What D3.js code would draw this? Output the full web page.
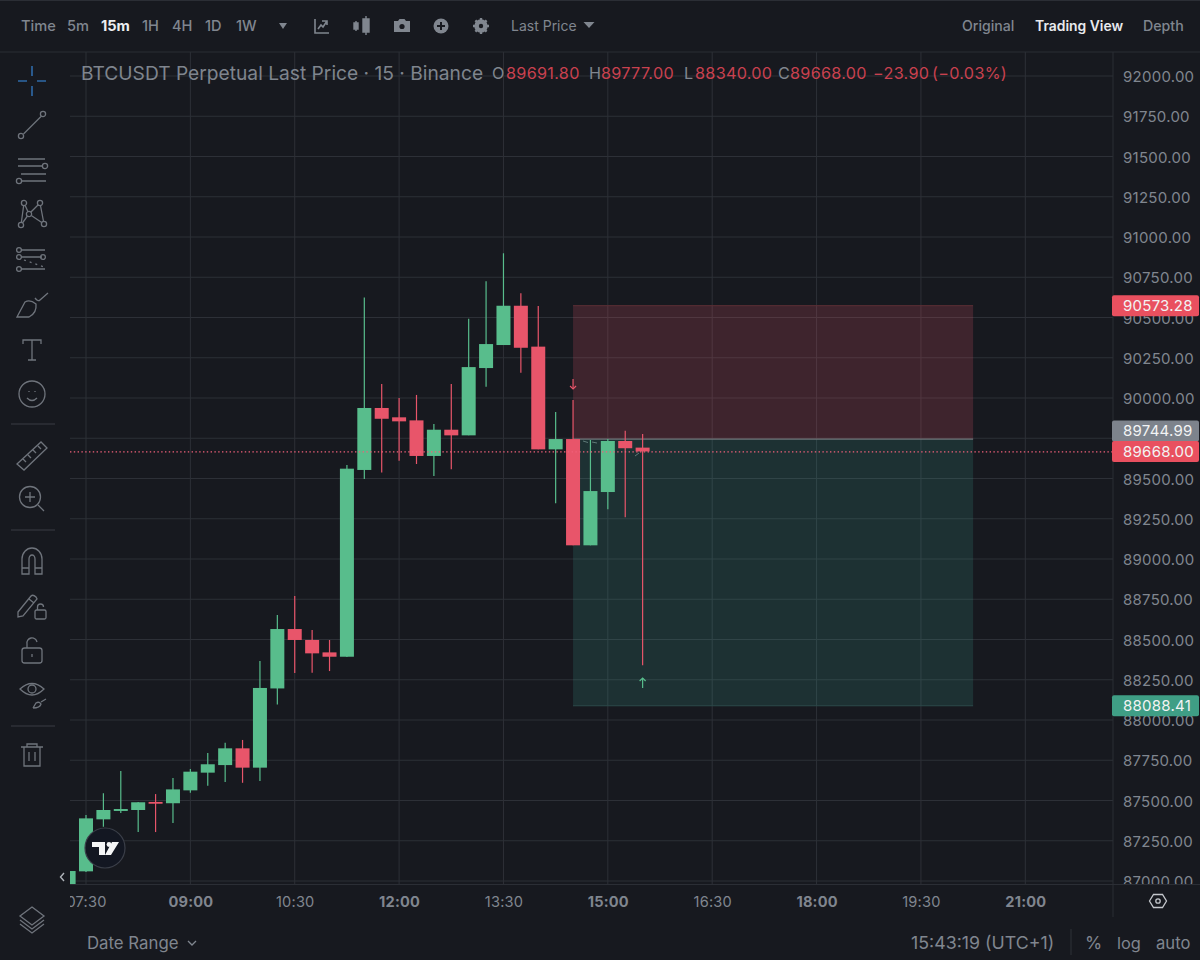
<!DOCTYPE html>
<html><head><meta charset="utf-8">
<script src="https://cdn.jsdelivr.net/npm/d3@7"></script>
<style>
html,body{margin:0;padding:0;background:#17191f;overflow:hidden}
svg{display:block}
text{font-family:Inter,"Noto Sans",sans-serif}
</style></head><body>
<svg id="c" width="1200" height="960"></svg>
<script>
const barTimes=["07:15","07:30","07:45","08:00","08:15","08:30","08:45","09:00","09:15","09:30","09:45","10:00","10:15","10:30","10:45","11:00","11:15","11:30","11:45","12:00","12:15","12:30","12:45","13:00","13:15","13:30","13:45","14:00","14:15","14:30","14:45","15:00","15:15","15:30"];
const opens=[86981,87060,87383,87435,87441,87491,87483,87563,87673,87720,87824,87704,88196,88565,88497,88420,88393,89553,89938,89880,89861,89640,89803,89768,90186,90329,90573,90319,89681,89745,89085,89416,89733,89691.8];
const closes=[87062,87389,87441,87447,87489,87480,87569,87679,87725,87824,87704,88199,88565,88497,88414,88393,89561,89938,89871,89855,89640,89803,89768,90192,90335,90573,90312,89681,89745,89085,89422,89733,89688,89668];
const highs=[87062,87410,87545,87683,87491,87540,87640,87696,87795,87859,87876,88366,88652,88770,88559,88497,89584,90625,90087,90000,90019,89838,90087,90492,90725,90899,90650,90571,89913,89988,89739,89745,89797,89777];
const lows=[86981,87056,87337,87422,87304,87304,87360,87548,87592,87615,87610,87621,88097,88292,88294,88304,88391,89497,89538,89610,89590,89515,89557,89768,90070,90329,90157,89681,89346,89085,89085,89309,89259,88340];
const priceTicks=[87000,87250,87500,87750,88000,88250,88500,88750,89000,89250,89500,89750,90000,90250,90500,90750,91000,91250,91500,91750,92000];
const timeTicks=["07:30","09:00","10:30","12:00","13:30","15:00","16:30","18:00","19:30","21:00"];
const majorTimes=["09:00","12:00","15:00","18:00","21:00"];
const stopPrice=90573.28, entryPrice=89744.99, targetPrice=88088.41, lastPrice=89668.00;
const boxStart="14:30", boxEnd="20:15";
const toolbarLabels=[["Time",21,0],["5m",67,0],["15m",101,1],["1H",142,0],["4H",172,0],["1D",205,0],["1W",236,0]];

const GRAY="#80868f",DIM="#6f747c",GREEN="#58bd8c",RED="#e8556a",GRID="#2d3037",BG="#17191f";
const mins=t=>{const[a,b]=t.split(":");return +a*60+ +b};
const x=d3.scaleLinear().domain([450,1260]).range([86,1025.3]);
const y=d3.scaleLinear().domain([87000,92000]).range([881,76]);
const svg=d3.select("#c");
svg.append("rect").attr("width",1200).attr("height",960).attr("fill",BG);
const defs=svg.append("defs");
defs.append("clipPath").attr("id","pane").append("rect").attr("x",70).attr("y",52).attr("width",1043).attr("height",832);
defs.append("clipPath").attr("id","yax").append("rect").attr("x",1114).attr("y",52).attr("width",86).attr("height",833);
defs.append("clipPath").attr("id","xax").append("rect").attr("x",70).attr("y",885).attr("width",1043).attr("height",35);

const pane=svg.append("g").attr("clip-path","url(#pane)");
pane.selectAll("line.h").data(priceTicks).join("line").attr("x1",58).attr("x2",1113).attr("y1",d=>y(d)).attr("y2",d=>y(d)).attr("stroke",GRID);
pane.selectAll("line.v").data(timeTicks).join("line").attr("x1",d=>x(mins(d))).attr("x2",d=>x(mins(d))).attr("y1",52).attr("y2",884).attr("stroke",GRID);

// position box
const bx0=x(mins(boxStart)),bx1=x(mins(boxEnd));
pane.append("rect").attr("x",bx0).attr("width",bx1-bx0).attr("y",y(stopPrice)).attr("height",y(entryPrice)-y(stopPrice)).attr("fill","rgba(232,85,106,.19)");
pane.append("rect").attr("x",bx0).attr("width",bx1-bx0).attr("y",y(entryPrice)).attr("height",y(targetPrice)-y(entryPrice)).attr("fill","rgba(70,190,170,.15)");
pane.append("line").attr("x1",bx0).attr("x2",bx1).attr("y1",y(entryPrice)).attr("y2",y(entryPrice)).attr("stroke","#6d7479").attr("stroke-width",1.2);
pane.append("line").attr("x1",bx0).attr("x2",bx1).attr("y1",y(stopPrice)).attr("y2",y(stopPrice)).attr("stroke","#5e2f36");
pane.append("line").attr("x1",bx0).attr("x2",bx1).attr("y1",y(targetPrice)).attr("y2",y(targetPrice)).attr("stroke","#2c4a4a");

// candles
const bw=14;
const bars=d3.range(barTimes.length);
const col=i=>closes[i]>=opens[i]?GREEN:RED;
pane.selectAll("line.w").data(bars).join("line")
 .attr("x1",i=>x(mins(barTimes[i]))).attr("x2",i=>x(mins(barTimes[i])))
 .attr("y1",i=>y(highs[i])).attr("y2",i=>y(lows[i])).attr("stroke",col).attr("stroke-width",1.2);
pane.selectAll("rect.b").data(bars).join("rect")
 .attr("x",i=>x(mins(barTimes[i]))-bw/2).attr("width",bw)
 .attr("y",i=>Math.min(y(opens[i]),y(closes[i])))
 .attr("height",i=>Math.max(1.5,Math.abs(y(opens[i])-y(closes[i])))).attr("fill",col);

// last price dotted
pane.append("line").attr("x1",70).attr("x2",1113).attr("y1",y(lastPrice)+.5).attr("y2",y(lastPrice)+.5).attr("stroke","#f0607a").attr("stroke-width",1.3).attr("stroke-dasharray","1.4 2.4");

// small marks and arrows
const arrow=(px,py,c,dir)=>{const g=svg.append("g").attr("stroke",c).attr("fill","none").attr("stroke-width",1.2);
 g.append("line").attr("x1",px).attr("x2",px).attr("y1",py-5).attr("y2",py+5);
 g.append("path").attr("d",`M${px-3},${py+dir*2} L${px},${py+dir*5} L${px+3},${py+dir*2}`);};
arrow(x(mins("14:30")),384,RED,1);
arrow(x(mins("15:30")),683,GREEN,-1);
svg.append("path").attr("d","M583,441 l5,1.5 M592,442 l5,1 M635,456 l4,-3").attr("stroke","#5f7a78").attr("fill","none");

// axes
const yAxis=d3.axisRight(y).tickValues(priceTicks).tickSize(0).tickPadding(0).tickFormat(d=>d3.format(".2f")(d));
const ya=svg.append("g").attr("clip-path","url(#yax)").append("g").attr("transform","translate(1123,0.7)").call(yAxis);
ya.select(".domain").remove();
ya.selectAll("text").attr("fill",GRAY).style("font-size","15px").style("letter-spacing",".25px");
const xAxis=d3.axisBottom(d3.scaleLinear().domain(x.domain()).range(x.range())).tickValues(timeTicks.map(mins)).tickSize(0).tickPadding(0)
 .tickFormat(d=>timeTicks.find(t=>mins(t)===d));
const xa=svg.append("g").attr("clip-path","url(#xax)").append("g").attr("transform","translate(0,896.5)").call(xAxis);
xa.select(".domain").remove();
xa.selectAll("text").attr("fill",GRAY).style("font-size","14.6px")
 .style("font-weight",function(d){return majorTimes.includes(timeTicks.find(t=>mins(t)===d))?"700":"400"})
 .style("letter-spacing",".2px");

// frame lines
const frame=[[0,52,1200,52],[1113,52,1113,917],[70,884.5,1200,884.5]];
svg.selectAll("line.f").data(frame).join("line").attr("x1",d=>d[0]).attr("y1",d=>d[1]).attr("x2",d=>d[2]).attr("y2",d=>d[3]).attr("stroke","#2b2e35");
svg.append("line").attr("x1",0).attr("x2",1200).attr("y1",0.5).attr("y2",0.5).attr("stroke","#2b2e35");

// price labels
function tag(v,cy,c,fill){
 svg.append("rect").attr("x",1112).attr("y",cy-10.5).attr("width",87).attr("height",21).attr("rx",2).attr("fill",c);
 svg.append("text").attr("x",1123).attr("y",cy).attr("dy",".36em").attr("fill",fill||"#f2f3f4").style("font-size","15px").style("letter-spacing",".25px").text(d3.format(".2f")(v));
}
tag(stopPrice,y(stopPrice),"#e9505f");
tag(entryPrice,y(entryPrice)-8,"#7d838c");
tag(lastPrice,y(lastPrice),"#e9505f");
tag(targetPrice,y(targetPrice),"#3f9e85");

// text helper
const T=(s,px,py,c,sz,w,anchor)=>svg.append("text").attr("x",px).attr("y",py).attr("dy",".36em").attr("fill",c).style("font-size",sz+"px").style("font-weight",w||400).attr("text-anchor",anchor||"start").text(s);

// top bar
toolbarLabels.forEach(d=>T(d[0],d[1],26,d[2]?"#eceef0":GRAY,14.6,d[2]?700:500));
T("Last Price",511,26,GRAY,14,400);
T("Original",962,26,GRAY,14.1,500);
T("Trading View",1035,26,"#e8eaed",13.9,600);
T("Depth",1143,26,GRAY,14.2,500);
const tri=(px,py,w)=>svg.append("path").attr("d",`M${px-w},${py-3} L${px+w},${py-3} L${px},${py+3} Z`).attr("fill",GRAY);
tri(283,26,4);tri(589,25,5.5);

// toolbar icons
const ic=(px,py)=>svg.append("g").attr("transform",`translate(${px},${py})`).attr("fill","none").attr("stroke",GRAY).attr("stroke-width",1.4);
let g=ic(322,26); g.append("path").attr("d","M-7,-7 V7 H7 M-4,3 L-1,-1 L1,1 L5,-5 M0,-5 h5 v4").attr("stroke-width",1.6);
g=ic(362,26); g.attr("fill",GRAY); g.append("path").attr("d","M-8,-3 h4 v6 h-4 z M-6,-5 v10 M1,-7 h6 v13 h-6 z M4,-10 v19");
g=ic(402,26); g.attr("fill",GRAY).attr("stroke","none"); g.append("path").attr("d","M-8,-5 h4 l1.5,-2 h5 l1.5,2 h4 v11 h-16 z"); g.append("circle").attr("cy",0.5).attr("r",2.6).attr("fill",BG);
g=ic(441,26); g.attr("stroke","none"); g.append("circle").attr("r",7.5).attr("fill",GRAY); g.append("path").attr("d","M-4,0 H4 M0,-4 V4").attr("stroke",BG).attr("stroke-width",2);
g=ic(481,26); g.attr("stroke",GRAY); g.append("circle").attr("r",6).attr("fill",GRAY); g.append("circle").attr("r",2.2).attr("fill",BG).attr("stroke","none");
g.append("path").attr("d","M0,-8 V8 M-8,0 H8 M-5.6,-5.6 L5.6,5.6 M-5.6,5.6 L5.6,-5.6").attr("stroke-width",2.4).attr("stroke-dasharray","3 10");

// legend
T("BTCUSDT Perpetual Last Price · 15 · Binance",81,73,"#7f858e",19.2,400);
[["O",492,GRAY],["89691.80",506,"#c9414f"],["H",589,GRAY],["89777.00",601,"#c9414f"],["L",684,GRAY],["88340.00",695,"#c9414f"],["C",778,GRAY],["89668.00",790,"#c9414f"],["−23.90",873,"#c9414f"],["(−0.03%)",932,"#c9414f"]]
 .forEach(d=>T(d[0],d[1],73,d[2],16.2,400).style("letter-spacing",".3px"));

// left tools
const L=(py)=>ic(32,py).attr("stroke",DIM).attr("stroke-width",1.3);
g=ic(32,81).attr("stroke","#2f6aa8").attr("stroke-width",1.6); g.append("path").attr("d","M-14,0 H-5 M5,0 H14 M0,-15 V-5 M0,5 V15");
g=L(125); g.append("path").attr("d","M-8.5,9 L9,-8.5"); g.append("circle").attr("cx",-11).attr("cy",11).attr("r",2.6); g.append("circle").attr("cx",11).attr("cy",-11).attr("r",2.6);
g=L(170); g.append("path").attr("d","M-14,-11 H13 M-14,-4 H10 M-11,4 H14 M-10,11 H14"); g.append("circle").attr("cx",13).attr("cy",-4).attr("r",2.6); g.append("circle").attr("cx",-13).attr("cy",11).attr("r",2.6);
g=L(214); g.append("path").attr("d","M-8,-11 L-3,0 L-11,11 M8,-11 L-3,0 L12,10 M-8,-11 L-11,11 M8,-11 L12,10");
[[-8,-11],[8,-11],[-3,0],[-11,11],[12,10]].forEach(p=>g.append("circle").attr("cx",p[0]).attr("cy",p[1]).attr("r",2.6).attr("fill",BG));
g=L(260); g.append("path").attr("d","M-11,-10 H13 M-11,-3 H10 M-11,9 H13"); g.append("path").attr("d","M-8,0 L12,7").attr("stroke-dasharray","2 4");
[[-13,-10],[-13,-3],[11,-3],[-13,9]].forEach(p=>g.append("circle").attr("cx",p[0]).attr("cy",p[1]).attr("r",2.4));
g=L(306); g.append("path").attr("d","M-15,11 L-7,-4 Q-2,-7 4,-2 Q5,7 -3,11 Z M3,-8 Q6,-4 8,-6 L16,-13");
g=L(349); g.append("path").attr("d","M-9,-5 V-9 H9 V-5 M0,-9 V11 M-4,11 H4");
g=L(394); g.append("circle").attr("r",13); g.append("path").attr("d","M-5,4 Q0,9 5,4 M-3,-3 v1 M3,-3 v1");
[[11,424],[11,530],[11,726]].forEach(d=>svg.append("line").attr("x1",d[0]).attr("x2",55).attr("y1",d[1]).attr("y2",d[1]).attr("stroke","#3a3d44"));
g=L(456); g.append("path").attr("d","M-15,8 L9,-14 L15,-8 L-8,14 Z M-9,3 l3,3 M-4,-1 l3,3 M1,-6 l3,3 M6,-10 l3,3");
g=L(499); g.append("circle").attr("cx",-2).attr("cy",-2).attr("r",10.5); g.append("path").attr("d","M6,6 L12,12 M-7,-2 H3 M-2,-7 V3");
g=L(561); g.append("path").attr("d","M-10,13 V-2 A10,11 0 0 1 10,-2 V13 H3 V-2 A3,4 0 0 0 -3,-2 V13 Z M-10,7 H-3 M3,7 H10");
g=L(605); g.append("path").attr("d","M-14,7 L-1,-9 Q1,-11 4,-8 L5,-6 L-9,11 L-14,12 Z M-3,-6 L2,-2"); g.append("rect").attr("x",3).attr("y",5).attr("width",11).attr("height",9).attr("rx",1.5); g.append("path").attr("d","M5.5,5 V2 A3,3 0 0 1 11.5,2");
g=L(651); g.append("rect").attr("x",-10).attr("y",-3).attr("width",20).attr("height",15).attr("rx",2.5); g.append("path").attr("d","M-5,-3 V-7 A5,5 0 0 1 5,-9 M0,3 V6");
g=L(695); g.append("path").attr("d","M-12,-6 Q0,-17 12,-6 Q0,6 -12,-6 Z"); g.append("circle").attr("cy",-6).attr("r",4); g.append("path").attr("d","M1,13 L4,8 Q7,6 9,9 Q8,13 1,13 M9,7 L14,4");
g=L(756); g.append("path").attr("d","M-11,-9 H11 M-5,-9 V-12 H5 V-9 M-8,-9 V10 H8 V-9 M-3,-4 V5 M3,-4 V5");
g=L(919); g.append("path").attr("d","M0,-12 L12,-3 L0,6 L-12,-3 Z M-12,1 L0,10 L12,1 M-12,5 L0,14 L12,5");

// TV badge
const b=svg.append("g").attr("transform","translate(105,848)");
b.append("circle").attr("r",20).attr("fill","#131722").attr("stroke","#3b3f49").attr("stroke-width",1.2);
b.append("path").attr("d","M-13,-6 H0 V7 H-6 V-1 H-13 Z M7,-6 H14 L6,7 H0 Z").attr("fill","#f4f5f6");
b.append("circle").attr("cx",4).attr("cy",-3.5).attr("r",2.4).attr("fill","#f4f5f6");
svg.append("path").attr("d","M64,873 L60.5,877 L64,881").attr("fill","none").attr("stroke","#b0b4ba").attr("stroke-width",1.4);

// settings hexagon
g=ic(1158,901).attr("stroke","#c4c7cc").attr("stroke-width",1.3);
g.append("path").attr("d","M-8.5,0 L-4.5,-6.5 H4.5 L8.5,0 L4.5,6.5 H-4.5 Z"); g.append("circle").attr("r",2.2);

// bottom bar
T("Date Range",87,943,GRAY,16.8,400);
svg.append("path").attr("d","M188,941 l4,4 l4,-4").attr("fill","none").attr("stroke",GRAY).attr("stroke-width",1.3);
T("15:43:19 (UTC+1)",911,943,GRAY,17.8,400);
svg.append("line").attr("x1",1071).attr("x2",1071).attr("y1",929).attr("y2",955).attr("stroke","#2f3238");
T("%",1085,943,GRAY,17.5,400);
T("log",1117,943,GRAY,16.4,400);
T("auto",1156,943,GRAY,16.6,400);
</script>
</body></html>
